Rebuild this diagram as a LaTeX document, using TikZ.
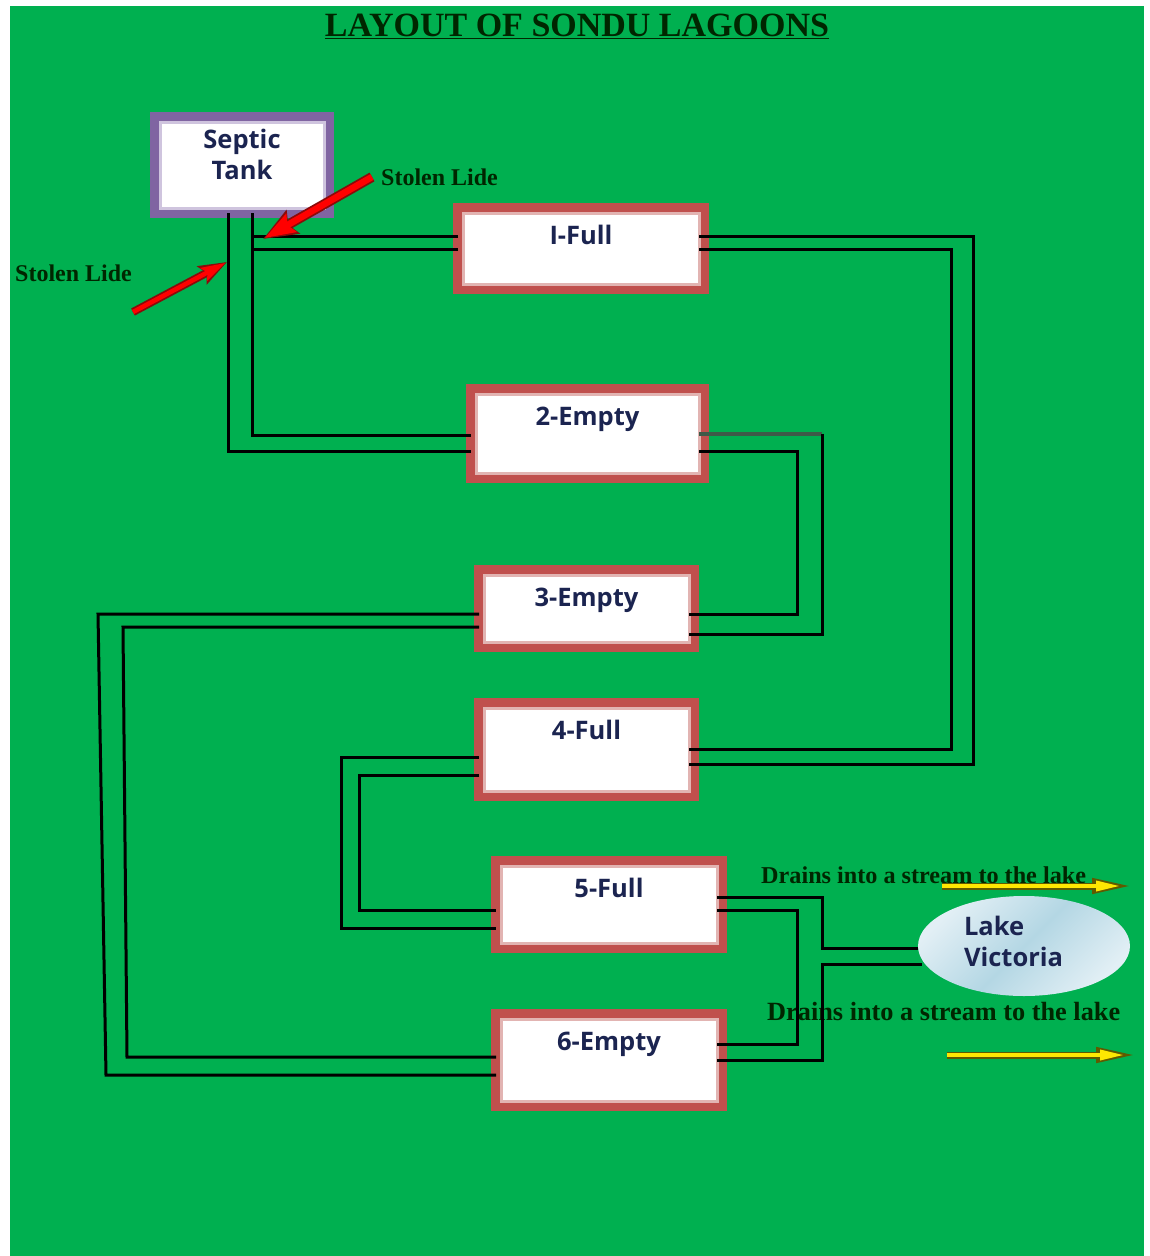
\documentclass[tikz,border=0pt]{standalone}
\usepackage{fontspec}
\setmainfont{Liberation Serif}
\newfontfamily\boxfont{Open Sans}
\usetikzlibrary{arrows.meta, shapes.geometric}
\definecolor{pondgreen}{HTML}{00B050}
\definecolor{rimred}{HTML}{C0504D}
\definecolor{rimpink}{HTML}{E2B4B2}
\definecolor{rimpurple}{HTML}{8064A2}
\definecolor{rimlilac}{HTML}{CFC4DE}
\definecolor{boxtext}{HTML}{1B2450}
\definecolor{laketop}{HTML}{E2EFF5}
\definecolor{lakemid}{HTML}{B4D7E4}
\definecolor{stolendark}{HTML}{8A0A0A}
\definecolor{drainolive}{HTML}{5F5A00}
\definecolor{pipegrey}{HTML}{3E5A48}
\tikzset{
  rimbox/.style={fill=white, inner sep=0pt, outer sep=0pt, align=center,
    font=\boxfont\fontsize{25.5}{31}\selectfont\bfseries, text=boxtext},
  lagoon/.style={rimbox, draw=rimpink, line width=3pt, preaction={draw=rimred, line width=20pt}},
  tankbox/.style={rimbox, draw=rimlilac, line width=3pt, preaction={draw=rimpurple, line width=20pt}},
  pipe/.style={draw=black, line width=3pt},
  stolenarrow/.style n args={3}{draw=stolendark, line width=#3pt, -{Stealth[length=#1pt,width=#2pt,inset=5pt]},
    postaction={draw=red, line width=#3pt-3.5pt, -{Stealth[length=#1pt-4pt,width=#2pt-6pt,inset=4pt]}, shorten >=2pt}},
  drainarrow/.style={draw=drainolive, line width=7pt, -{Triangle[length=42pt,width=14pt]},
    postaction={draw=yellow!90!orange, line width=3.5pt, -{Triangle[length=24pt,width=10pt]}, shorten >=14pt}},
  sidenote/.style={font=\bfseries, text=black!85!green, inner sep=0pt, anchor=base west},
}
\begin{document}
\begin{tikzpicture}[x=1pt, y=-1pt]
\useasboundingbox (0,0) rectangle (1150,1256);
\fill [pondgreen] (10,6) rectangle (1144,1256);
\node (title) [font=\fontsize{34}{34}\selectfont\bfseries, text=black!85!green, inner sep=0pt, anchor=base]
  at (577,36) {\underline{LAYOUT OF SONDU LAGOONS}};

% boxes, outer size less the rim
\node (tank) [tankbox, text height=26pt, text depth=60pt, text width=164pt] at (242,165) {Septic\\Tank};
\foreach \n/\x/\y/\w/\h/\t in {l1/581/248.5/236/71/I-Full, l2/587.5/433.5/223/79/2-Empty,
    l3/586.5/608.5/205/67/3-Empty, l4/586.5/749.5/205/83/4-Full,
    l5/609/904.5/216/77/5-Full, l6/609/1060/216/82/6-Empty} {
  \pgfmathsetmacro{\d}{\h-31}
  \node (\n) [lagoon, minimum width=\w pt, text height=31pt, text depth=\d pt] at (\x,\y) {\t};
}
\node (lake) [ellipse, inner sep=0pt, outer sep=0pt, minimum width=212pt, minimum height=100pt, text width=120pt,
  text height=20pt, text depth=42pt, top color=laketop, bottom color=laketop, middle color=lakemid, shading angle=45,
  font=\boxfont\fontsize{25.5}{31}\selectfont\bfseries, text=boxtext, align=left] at (1024,946) {Lake\\Victoria};

% labels
\node (stolenA) [sidenote, font=\fontsize{24}{24}\selectfont\bfseries] at (381,185) {Stolen Lide};
\node (stolenB) [sidenote, font=\fontsize{24}{24}\selectfont\bfseries] at (15,281) {Stolen Lide};
\node (drainA) [sidenote, font=\fontsize{24.2}{24}\selectfont\bfseries] at (761,883) {Drains into a stream to the lake};
\node (drainB) [sidenote, font=\fontsize{26.3}{26}\selectfont\bfseries] at (767,1020) {Drains into a stream to the lake};

% rail corners
\coordinate (railA) at (973,764);
\coordinate (railB) at (951,749);
\coordinate (railC) at (822,634);
\coordinate (railD) at (797,614);
\coordinate (railE) at (98,614);
\coordinate (railF) at (106,1075);
\coordinate (railG) at (123,627);
\coordinate (railH) at (127,1057);
\coordinate (railI) at (341,928);
\coordinate (railJ) at (359,910);
\coordinate (railK) at (822,948);
\coordinate (railL) at (797,1044);
\coordinate (railM) at (822,964);
\coordinate (railN) at (822,433.5);

\draw [pipe, shorten <=5pt, shorten >=5pt] ([xshift=10pt]tank.south) |- ([yshift=-1.5pt]l2.west);
\draw [pipe, shorten <=5pt, shorten >=5pt] ([xshift=-14pt]tank.south) |- ([yshift=-17.5pt]l2.west);
\draw [pipe, shorten <=5pt, shorten >=5pt] ([yshift=12.5pt]l1.west) -| ([xshift=10pt]tank.south);
\draw [pipe, shorten <=5pt, shorten >=5pt] ([yshift=-0.5pt]l1.west) -| ([xshift=10pt]tank.south);
\draw [pipe] ([yshift=12.5pt]l1.east) -| (railA) -- ([yshift=-14.5pt]l4.east);
\draw [pipe] ([yshift=-0.5pt]l1.east) -| (railB) -- ([yshift=0.5pt]l4.east);
\draw [pipe, pipegrey, line width=4pt] (l2.east) -- (railN);
\draw [pipe] (railN) -- (railC) -- ([yshift=-25.5pt]l3.east);
\draw [pipe] ([yshift=-17.5pt]l2.east) -| (railD) -- ([yshift=-5.5pt]l3.east);
\draw [pipe, shorten <=5pt, shorten >=5pt] ([yshift=-5.5pt]l3.west) -- (railE) -- (railF) -- ([yshift=-15pt]l6.west);
\draw [pipe, shorten <=5pt, shorten >=5pt] ([yshift=-18.5pt]l3.west) -- (railG) -- (railH) -- ([yshift=3pt]l6.west);
\draw [pipe, shorten <=5pt, shorten >=5pt] ([yshift=-7.5pt]l4.west) -| (railI) -- ([yshift=-23.5pt]l5.west);
\draw [pipe, shorten <=5pt, shorten >=5pt] ([yshift=-25.5pt]l4.west) -| (railJ) -- ([yshift=-5.5pt]l5.west);
\draw [pipe] ([yshift=7.5pt]l5.east) -| (railK) -- ([yshift=-2pt]lake.west);
\draw [pipe] ([yshift=-5.5pt]l5.east) -| (railL) -- ([yshift=16pt]l6.east);
\draw [pipe] (l6.east) -| (railM) -- ([xshift=4pt,yshift=-18pt]lake.west);

% arrows
\coordinate (stolenAtail) at (372,177);
\coordinate (stolenAhead) at (263,239);
\coordinate (stolenBtail) at (133,312);
\coordinate (stolenBhead) at (227,262);
\coordinate (drainAtail) at (942,886);
\coordinate (drainAhead) at (1134,886);
\coordinate (drainBtail) at (947,1055);
\coordinate (drainBhead) at (1138,1055);
\draw [stolenarrow={34}{26}{10}] (stolenAtail) -- (stolenAhead);
\draw [stolenarrow={28}{20}{8}] (stolenBtail) -- (stolenBhead);
\draw [drainarrow] (drainAtail) -- (drainAhead);
\draw [drainarrow] (drainBtail) -- (drainBhead);
\end{tikzpicture}
\end{document}
